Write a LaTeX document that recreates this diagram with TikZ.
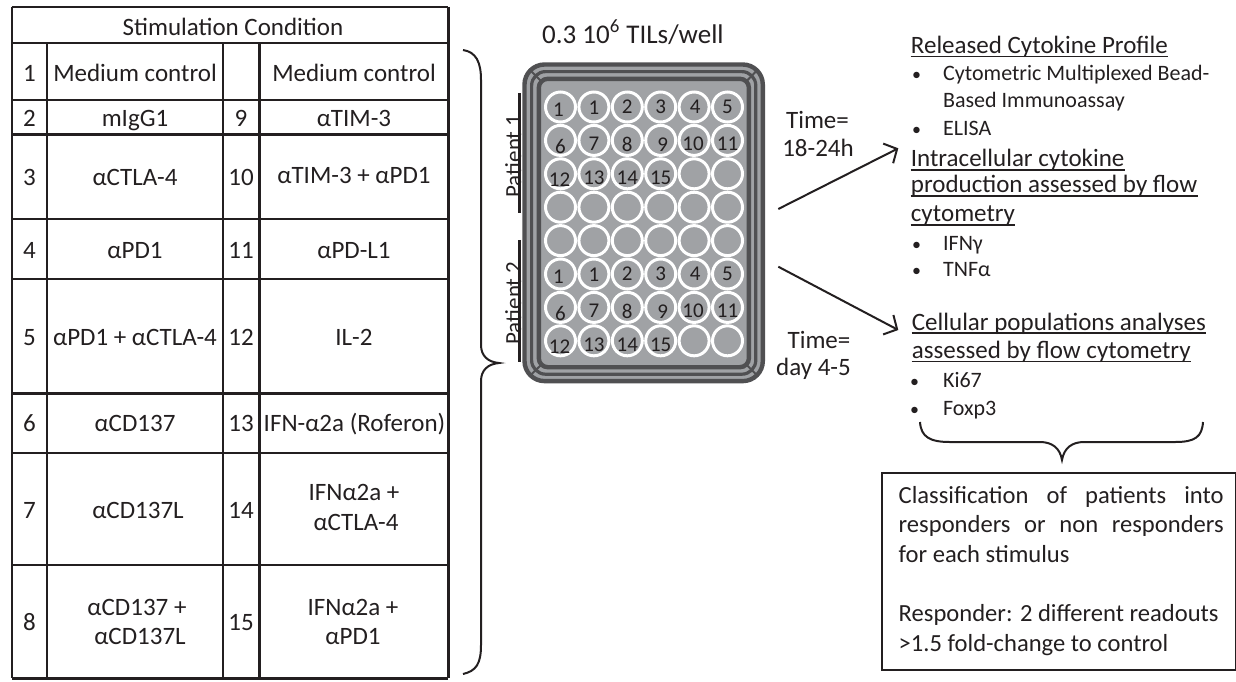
\documentclass[tikz,border=0pt]{standalone}
\usepackage{fontspec}
\setmainfont{Carlito}
\usetikzlibrary{arrows.meta}
\definecolor{platedark}{HTML}{505052}
\definecolor{plategray}{HTML}{A0A2A5}
\definecolor{ink}{HTML}{231F20}
\begin{document}
\begin{tikzpicture}[x=0.5pt,y=-0.5pt,
  every node/.style={inner sep=0pt, text=ink},
  tabtxt/.style={font=\fontsize{12.5}{15}\selectfont, anchor=base},
  hdtxt/.style={font=\fontsize{12.5}{15}\selectfont, anchor=base west},
  itemtxt/.style={font=\fontsize{11}{13}\selectfont, anchor=base west},
  bul/.style={font=\fontsize{9}{11}\selectfont, anchor=base},
  timetxt/.style={font=\fontsize{12.5}{15}\selectfont, anchor=base},
  toptxt/.style={font=\fontsize{13.5}{16}\selectfont, anchor=base west},
  pattxt/.style={font=\fontsize{11.5}{14}\selectfont, anchor=base, rotate=90},
  welltxt/.style={font=\fontsize{10.5}{12}\selectfont},
  boxtxt/.style={font=\fontsize{12.3}{15}\selectfont, anchor=base west},
  ulline/.style={line width=0.8pt, draw=ink},
  grid/.style={line width=1pt, draw=ink},
  gridthick/.style={line width=1.5pt, draw=ink},
  bracest/.style={line width=1pt, draw=ink},
  arr/.style={line width=1pt, draw=ink, -{Straight Barb[length=5pt,width=11pt,line width=1pt]}},
  well/.style={circle, draw=white, line width=1.5pt, fill=plategray, minimum size=15pt},
  boxst/.style={draw=ink, line width=1pt, anchor=north west, minimum width=176.75pt, minimum height=98.35pt}
]
\useasboundingbox (0,0) rectangle (1236,681);

% ---------------- table ----------------
\draw[grid] (11.7,6.7) -- (448.3,6.7);
\draw[grid] (11.7,6.7) -- (11.7,678);
\draw[gridthick] (448.3,6.7) -- (448.3,678);
\draw[gridthick] (11.7,678) -- (448.3,678);
\foreach \y in {43,100,219,279,453,565} \draw[grid] (11.7,\y) -- (448.3,\y);
\foreach \y in {134,393} \draw[gridthick] (11.7,\y) -- (448.3,\y);
\foreach \x in {46.7,222.7} \draw[grid] (\x,43) -- (\x,678);
\draw[gridthick] (259.3,43) -- (259.3,678);

\node[tabtxt] (hdr) at (233,35) {Stimulation Condition};

\node[tabtxt] (a1) at (29.5,81.7) {1};
\node[tabtxt] (b1) at (135,81.7) {Medium control};
\node[tabtxt] (d1) at (354,81.7) {Medium control};

\node[tabtxt] (a2) at (29.5,126.7) {2};
\node[tabtxt] (b2) at (135,126.7) {mIgG1};
\node[tabtxt] (c2) at (241,126.7) {9};
\node[tabtxt] (d2) at (354,126.7) {αTIM-3};

\node[tabtxt] (a3) at (29.5,185) {3};
\node[tabtxt] (b3) at (135,185) {αCTLA-4};
\node[tabtxt] (c3) at (241,185) {10};
\node[tabtxt] (d3) at (354,183.3) {αTIM-3 + αPD1};

\node[tabtxt] (a4) at (29.5,258.3) {4};
\node[tabtxt] (b4) at (135,258.3) {αPD1};
\node[tabtxt] (c4) at (241,258.3) {11};
\node[tabtxt] (d4) at (354,258.3) {αPD-L1};

\node[tabtxt] (a5) at (29.5,345) {5};
\node[tabtxt] (b5) at (135,345) {αPD1 + αCTLA-4};
\node[tabtxt] (c5) at (241,345) {12};
\node[tabtxt] (d5) at (354,345) {IL-2};

\node[tabtxt] (a6) at (29.5,431.7) {6};
\node[tabtxt] (b6) at (135,431.7) {αCD137};
\node[tabtxt] (c6) at (241,431.7) {13};
\node[tabtxt] (d6) at (354.5,431.7) {IFN-α2a (Roferon)};

\node[tabtxt] (a7) at (29.5,518.3) {7};
\node[tabtxt] (b7) at (138,518.3) {αCD137L};
\node[tabtxt] (c7) at (241,518.3) {14};
\node[tabtxt] (d7a) at (354,500) {IFNα2a +};
\node[tabtxt] (d7b) at (356,530) {αCTLA-4};

\node[tabtxt] (a8) at (29.5,630) {8};
\node[tabtxt] (b8a) at (137,615) {αCD137 +};
\node[tabtxt] (b8b) at (140,644) {αCD137L};
\node[tabtxt] (c8) at (241,630) {15};
\node[tabtxt] (d8a) at (353,615) {IFNα2a +};
\node[tabtxt] (d8b) at (353,644) {αPD1};

% ---------------- left brace ----------------
\draw[bracest] (463,50) .. controls (476,52) and (481,62) .. (481,80)
  -- (481,345) .. controls (481,356) and (488,362) .. (499,363)
  .. controls (488,364) and (481,370) .. (481,381)
  -- (481,645) .. controls (481,664) and (476,671) .. (463,674);

% ---------------- plate ----------------
\node[toptxt] (cells) at (541.7,43.3) {0.3 10\textsuperscript{6} TILs/well};

\draw[line width=2.2pt, draw=platedark, fill=plategray, rounded corners=10pt] (524.5,64.5) rectangle (762.8,381.1);
\draw[line width=1.6pt, draw=platedark, rounded corners=7pt] (531.6,71.6) rectangle (755.8,374.2);
\draw[line width=2.2pt, draw=platedark, fill=plategray, rounded corners=4.5pt] (538.8,78.8) rectangle (748.9,367.2);
\draw[line width=1pt, draw=platedark] (530.4,70.4) -- (541.4,81.4);
\draw[line width=1pt, draw=platedark] (756.9,70.4) -- (746.3,81.4);
\draw[line width=1pt, draw=platedark] (530.4,375.2) -- (541.4,364.6);
\draw[line width=1pt, draw=platedark] (756.9,375.2) -- (746.3,364.6);

\foreach \r in {0,...,7}
  \foreach \c in {0,...,5}
    \node[well] (w\r-\c) at ({560.5+33.4*\c},{107+33.4*\r}) {};

\foreach \p [evaluate=\p as \q using {int(\p+1)}, evaluate=\p as \s using {int(\p+2)}] in {0,5}{
  \foreach \c/\t/\dx/\dy in {0/1/-2/3, 1/1/0/1, 2/2/0/0, 3/3/0/0, 4/4/1/0, 5/5/0/0}
    \node[welltxt] (n\p-\c) at ([shift={(\dx,\dy)}]w\p-\c.center) {\t};
  \foreach \c/\t/\dx/\dy in {0/6/0/6, 1/7/0/3.6, 2/8/0/3.6, 3/9/2/4.6, 4/10/-1/3, 5/11/0/3}
    \node[welltxt] (n\q-\c) at ([shift={(\dx,\dy)}]w\q-\c.center) {\t};
  \foreach \c/\t/\dx/\dy in {0/12/-1/6, 1/13/0/3.5, 2/14/0/3.5, 3/15/0/4.5}
    \node[welltxt] (n\s-\c) at ([shift={(\dx,\dy)}]w\s-\c.center) {\t};
}

\node[pattxt] (pat1) at (521,156) {Patient 1};
\draw[line width=1.2pt, draw=ink] (519.3,93) -- (519.3,213);
\node[pattxt] (pat2) at (521,303) {Patient 2};
\draw[line width=1.2pt, draw=ink] (519.3,240) -- (519.3,362);

% ---------------- time labels and arrows ----------------
\node[timetxt] (t1a) at (817.5,128.3) {Time=};
\node[timetxt] (t1b) at (818,156.7) {18-24h};
\node[timetxt] (t2a) at (819,348.3) {Time=};
\node[timetxt] (t2b) at (813.5,375) {day 4-5};

\coordinate (s1) at (778.3,209);
\coordinate (e1) at (898.3,148.3);
\coordinate (s2) at (778.3,266.7);
\coordinate (e2) at (898.3,330);
\draw[arr] (s1) -- (e1);
\draw[arr] (s2) -- (e2);

% ---------------- readouts ----------------
\node[hdtxt] (h1) at (910.5,53.3) {Released Cytokine Profile};
\draw[ulline] ([yshift=-1.6pt]h1.base west) -- ([yshift=-1.6pt]h1.base east);
\node[bul] (b1a) at (916.7,80) {•};
\node[itemtxt] (i1a) at (942.7,80) {Cytometric Multiplexed Bead-};
\node[itemtxt] (i1b) at (942.7,107.3) {Based Immunoassay};
\node[bul] (b1c) at (916.7,135) {•};
\node[itemtxt] (i1c) at (942.7,135) {ELISA};

\node[hdtxt] (h2a) at (910.5,166.7) {Intracellular cytokine};
\draw[ulline] ([yshift=-1.6pt]h2a.base west) -- ([yshift=-1.6pt]h2a.base east);
\node[hdtxt] (h2b) at (910.5,192.7) {production assessed by flow};
\draw[ulline] ([yshift=-1.6pt]h2b.base west) -- ([yshift=-1.6pt]h2b.base east);
\node[hdtxt] (h2c) at (910.5,221.7) {cytometry};
\draw[ulline] ([yshift=-1.6pt]h2c.base west) -- ([yshift=-1.6pt]h2c.base east);
\node[bul] (b2a) at (916.7,250) {•};
\node[itemtxt] (i2a) at (942.7,250) {IFNγ};
\node[bul] (b2b) at (916.7,276.7) {•};
\node[itemtxt] (i2b) at (942.7,276.7) {TNFα};

\node[hdtxt] (h3a) at (911.5,330) {Cellular populations analyses};
\draw[ulline] ([yshift=-1.6pt]h3a.base west) -- ([yshift=-1.6pt]h3a.base east);
\node[hdtxt] (h3b) at (911.5,358.3) {assessed by flow cytometry};
\draw[ulline] ([yshift=-1.6pt]h3b.base west) -- ([yshift=-1.6pt]h3b.base east);
\node[bul] (b3a) at (914.5,387.7) {•};
\node[itemtxt] (i3a) at (942.7,387.7) {Ki67};
\node[bul] (b3b) at (914.5,415) {•};
\node[itemtxt] (i3b) at (942.7,415) {Foxp3};

% ---------------- bottom brace ----------------
\draw[bracest] (920,422) .. controls (921,437) and (930,442) .. (950,442)
  -- (1040,442) .. controls (1052,442) and (1060,448) .. (1062,460)
  .. controls (1064,448) and (1072,442) .. (1084,442)
  -- (1175,442) .. controls (1195,442) and (1202,437) .. (1203,422);

% ---------------- classification box ----------------
\node[boxst] (box) at (881,472.3) {};
\node[boxtxt] (l1) at (898.3,503.3) {\makebox[162.5pt][s]{Classification of patients into}};
\node[boxtxt] (l2) at (898.3,532.7) {\makebox[162.5pt][s]{responders or non responders}};
\node[boxtxt] (l3) at (898.3,562.7) {for each stimulus};
\node[boxtxt] (l4) at (898.3,621.7) {Responder: 2 different readouts};
\node[boxtxt] (l5) at (898.3,651.7) {>1.5 fold-change to control};
\end{tikzpicture}
\end{document}
